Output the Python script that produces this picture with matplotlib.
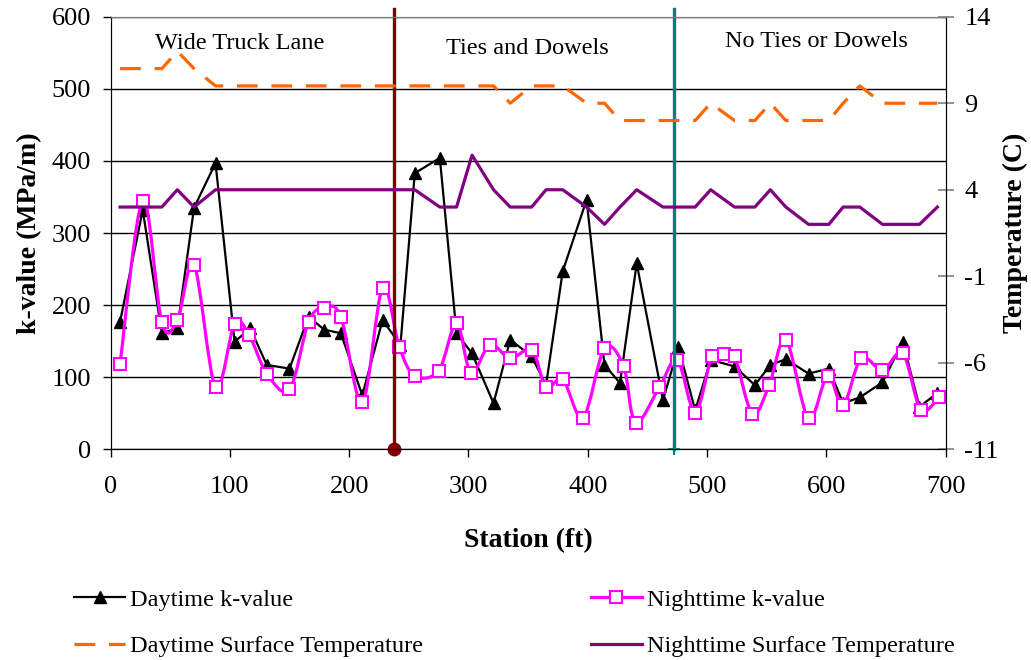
import numpy as np
import matplotlib
matplotlib.use("Agg")
import matplotlib.pyplot as plt
from matplotlib.path import Path
from matplotlib.patches import PathPatch
from matplotlib.lines import Line2D

# station positions (ft) and values
day_station = [8, 27, 43, 56, 70, 88, 104, 117, 131, 150, 166, 179, 193, 211, 228,
               243, 255, 276, 290, 303, 321, 335, 353, 365, 379, 399, 414, 427, 441,
               463, 476, 490, 503, 523, 540, 553, 566, 585, 602, 614, 628, 647, 664,
               678, 693]
day_k = [177, 332, 161, 168, 335, 397, 149, 168, 117, 112, 184, 166, 161, 75, 179,
         145, 383, 404, 161, 133, 64, 152, 129, 89, 247, 346, 117, 92, 258,
         68, 142, 54, 124, 115, 89, 117, 125, 105, 112, 64, 72, 93, 149,
         59, 78]
day_temp = [11, 11, 11, 12, 11, 10, 10, 10, 10, 10, 10, 10, 10, 10, 10,
            10, 10, 10, 10, 10, 10, 9, 10, 10, 10, 9, 9, 8, 8,
            8, 8, 8, 9, 8, 8, 9, 8, 8, 8, 9, 10, 9, 9,
            9, 9]
night_temp = [3, 3, 3, 4, 3, 4, 4, 4, 4, 4, 4, 4, 4, 4, 4,
              4, 4, 3, 3, 6, 4, 3, 3, 4, 4, 3, 2, 3, 4,
              3, 3, 3, 4, 3, 3, 4, 3, 2, 2, 3, 3, 2, 2,
              2, 3]

night_station = [8, 27, 43, 56, 70, 88, 104, 116, 131, 150, 166, 179, 193, 211, 228,
                 242, 255, 275, 290, 302, 318, 335, 353, 365, 379, 396, 414, 430, 440,
                 460, 475, 490, 504, 514, 523, 538, 552, 566, 585, 601, 614, 629, 647,
                 664, 679, 694]
night_k = [119, 345, 176, 179, 256, 86, 174, 159, 105, 83, 177, 196, 184, 65, 224,
           142, 102, 109, 175, 106, 145, 126, 138, 86, 97, 44, 140, 115, 37,
           86, 124, 51, 129, 132, 129, 49, 89, 152, 43, 102, 61, 126, 110,
           133, 55, 72]

sections = ["Wide Truck Lane", "Ties and Dowels", "No Ties or Dowels"]
section_x = [108, 349, 592]
section_y = [563, 556, 565]
boundaries = [238, 472]


def smooth_path(xs, ys):
    pts = np.column_stack([xs, ys]).astype(float)
    verts = [pts[0]]
    codes = [Path.MOVETO]
    n = len(pts)
    for i in range(n - 1):
        p0 = pts[i - 1] if i > 0 else pts[i]
        p1, p2 = pts[i], pts[i + 1]
        p3 = pts[i + 2] if i + 2 < n else pts[i + 1]
        verts += [p1 + (p2 - p0) / 6, p2 - (p3 - p1) / 6, p2]
        codes += [Path.CURVE4] * 3
    return Path(verts, codes)


plt.rcParams['font.family'] = ['Liberation Serif', 'DejaVu Serif']
plt.rcParams['axes.unicode_minus'] = False

fig = plt.figure(figsize=(10.31, 6.6), dpi=100)
ax = fig.add_axes([0.1072, 0.3192, 0.8101, 0.6555])
ax2 = ax.twinx()

# grid
ax.set_ylim(0, 600)
ax.set_xlim(0, 700)
ax.set_yticks(range(0, 601, 100))
ax.set_xticks(range(0, 701, 100))
ax.grid(axis='y', color='black', lw=1.0)
ax.set_axisbelow(True)

# k-values
ax.plot(day_station, day_k, color='black', lw=1.6, marker='^', ms=9,
        mfc='black', mec='black', zorder=3)
ax.add_patch(PathPatch(smooth_path(night_station, night_k), facecolor='none',
                       edgecolor='#FF00FF', lw=2.3, zorder=4))
ax.plot(night_station, night_k, ls='none', marker='s', ms=8, mfc='white',
        mec='#FF00FF', mew=1.5, zorder=5)

# section boundaries
ax.plot([boundaries[0]] * 2, [0, 611], color='#800000', lw=2.4, clip_on=False, zorder=6)
ax.plot([boundaries[0]], [0], marker='o', ms=9, color='#800000', clip_on=False, zorder=6)
ax.plot([boundaries[1]] * 2, [0, 611], color='#008080', lw=2.4, clip_on=False, zorder=6)
ax.plot([boundaries[1]], [0], marker='+', ms=9, color='#008080', mew=1.5, clip_on=False, zorder=6)

for name, sx, sy in zip(sections, section_x, section_y):
    ax.text(sx, sy, name, ha='center', va='center', fontsize=17.5)

# temperatures
ax2.plot(day_station, day_temp, color='#FF6600', lw=2.3, ls=(0, (6.5, 4.3)))
ax2.plot(day_station, night_temp, color='#800080', lw=2.3)
ax2.set_ylim(-11, 14)
ax2.set_yticks([-11, -6, -1, 4, 9, 14])

# spines / ticks
for a in (ax, ax2):
    a.spines['top'].set_color('#808080')
    a.spines['left'].set_color('black')
    a.spines['right'].set_color('black')
    a.spines['bottom'].set_color('black')
ax.tick_params(axis='both', direction='out', length=6, width=1, labelsize=19)
ax.tick_params(axis='y', pad=8)
ax.tick_params(axis='x', pad=13)
ax2.tick_params(axis='y', direction='inout', length=11, width=1.2, color='#808080',
                labelsize=19, pad=8)

ax.set_xlabel("Station (ft)", fontsize=20, fontweight='bold')
ax.xaxis.set_label_coords(0.5, -0.182)
ax.set_ylabel("k-value (MPa/m)", fontsize=20, fontweight='bold')
ax.yaxis.set_label_coords(-0.082, 0.5)
ax2.set_ylabel("Temperature (C)", fontsize=20, fontweight='bold')
ax2.yaxis.set_label_coords(1.068, 0.5)

handles = [
    Line2D([], [], color='black', lw=1.6, marker='^', ms=9),
    Line2D([], [], color='#FF6600', lw=2.3, ls=(0, (6.5, 4.3))),
    Line2D([], [], color='#FF00FF', lw=2.3, marker='s', ms=8, mfc='white', mew=1.5),
    Line2D([], [], color='#800080', lw=2.3),
]
labels = ["Daytime k-value", "Daytime Surface Temperature",
          "Nighttime k-value", "Nighttime Surface Temperature"]
fig.legend(handles, labels, loc='upper left', bbox_to_anchor=(0.072, 0.108),
           ncol=2, frameon=False, fontsize=17.5, handlelength=2.1,
           handletextpad=0.2, columnspacing=6.9, labelspacing=1.0,
           borderpad=0, borderaxespad=0)

fig.savefig("out.png", dpi=100)
